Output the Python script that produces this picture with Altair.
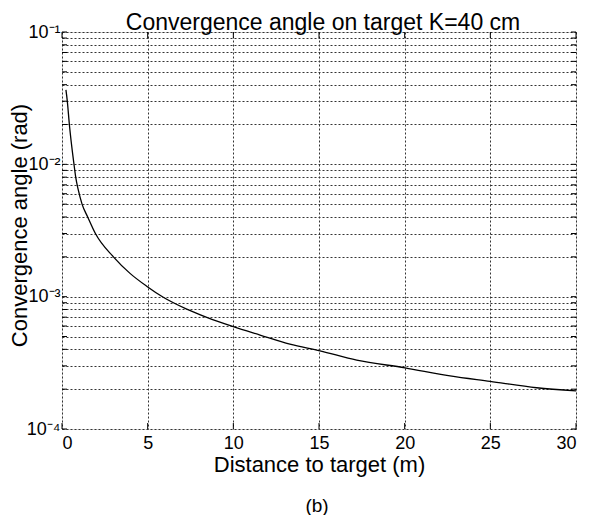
import altair as alt
import pandas as pd

# ---- data ----
distance_m = [0.23, 0.31, 0.43, 0.70, 0.80, 0.95, 1.17, 1.50, 1.95, 3.0, 3.97, 4.94, 5.91,
              7.28, 8.45, 10.0, 11.56, 13.3, 15.06, 17.2, 20.02, 22.65, 24.99, 27.7, 30.0]
angle_rad = [0.0365, 0.030, 0.020, 0.010, 0.008, 0.0064, 0.0050, 0.0040, 0.0030, 0.0020,
             0.0015, 0.0012, 0.00099, 0.000805, 0.000697, 0.000593, 0.000513, 0.000438,
             0.00039, 0.000332, 0.00029, 0.000252, 0.000229, 0.000205, 0.000194]

x_ticks = [0, 5, 10, 15, 20, 25, 30]
y_major = [1e-4, 1e-3, 1e-2, 1e-1]
y_major_labels = ["10⁻⁴", "10⁻³", "10⁻²", "10⁻¹"]
y_grid = [m * 10.0 ** k for k in (-4, -3, -2) for m in range(1, 10)] + [1e-1]

FONT = "Liberation Sans"
W, H = 514, 397

df = pd.DataFrame({"d": distance_m, "a": angle_rad})
xt = pd.DataFrame({"d": x_ticks})
yt = pd.DataFrame({"a": y_grid})

label_expr = "''"
for v, lab in zip(y_major, y_major_labels):
    label_expr = f"abs(datum.value/{v} - 1) < 1e-6 ? '{lab}' : ({label_expr})"

xscale = alt.Scale(domain=[0, 30], nice=False, zero=False)
yscale = alt.Scale(type="log", domain=[1e-4, 1e-1], nice=False)

line = alt.Chart(df).mark_line(color="black", strokeWidth=1.3, interpolate="monotone").encode(
    x=alt.X("d:Q", scale=xscale,
            axis=alt.Axis(values=x_ticks, format="d", grid=True, gridDash=[2, 2],
                          gridColor="#333", gridWidth=1, ticks=False, domain=False,
                          labelFont=FONT, labelFontSize=18, labelColor="black",
                          labelPadding=5, labelOverlap=False,
                          title="Distance to target (m)", titleFont=FONT,
                          titleFontSize=22, titleFontWeight="normal",
                          titleColor="black", titlePadding=2)),
    y=alt.Y("a:Q", scale=yscale,
            axis=alt.Axis(values=y_grid, labelExpr=label_expr, grid=True,
                          gridDash=[2, 2], gridColor="#333", gridWidth=1,
                          ticks=False, domain=False, labelFont=FONT,
                          labelFontSize=18, labelColor="black", labelPadding=2,
                          labelOverlap=False, labelBaseline="middle",
                          title="Convergence angle (rad)", titleFont=FONT,
                          titleFontSize=22, titleFontWeight="normal",
                          titleColor="black", titleAngle=270, titleAlign="center",
                          titleBaseline="top", titleX=-53, titleY=193)),
)

tick_bottom = alt.Chart(xt).mark_rule(color="black", strokeWidth=1).encode(
    x=alt.X("d:Q", scale=xscale), y=alt.value(H), y2=alt.value(H - 6))
tick_top = alt.Chart(xt).mark_rule(color="black", strokeWidth=1).encode(
    x=alt.X("d:Q", scale=xscale), y=alt.value(0), y2=alt.value(6))
tick_left = alt.Chart(yt).mark_rule(color="black", strokeWidth=1).encode(
    y=alt.Y("a:Q", scale=yscale), x=alt.value(0), x2=alt.value(5))
tick_right = alt.Chart(yt).mark_rule(color="black", strokeWidth=1).encode(
    y=alt.Y("a:Q", scale=yscale), x=alt.value(W), x2=alt.value(W - 5))

caption = alt.Chart(pd.DataFrame({"t": ["(b)"]})).mark_text(
    font=FONT, fontSize=19, color="black", align="center", baseline="middle"
).encode(text="t:N", x=alt.value(W / 2 - 2), y=alt.value(474))

chart = alt.layer(line, tick_bottom, tick_top, tick_left, tick_right, caption).properties(
    width=W, height=H,
    title=alt.Title("Convergence angle on target K=40 cm", font=FONT, fontSize=23,
                    fontWeight="normal", color="black", anchor="middle", offset=0,
                    dy=12, dx=4),
    autosize=alt.AutoSizeParams(type="none"),
    padding={"left": 54, "top": 24, "right": 6, "bottom": 86},
).configure_view(stroke="black", strokeWidth=1.5).configure(background="white")

chart.save("out.html", embed_options={"renderer": "svg", "actions": False})
